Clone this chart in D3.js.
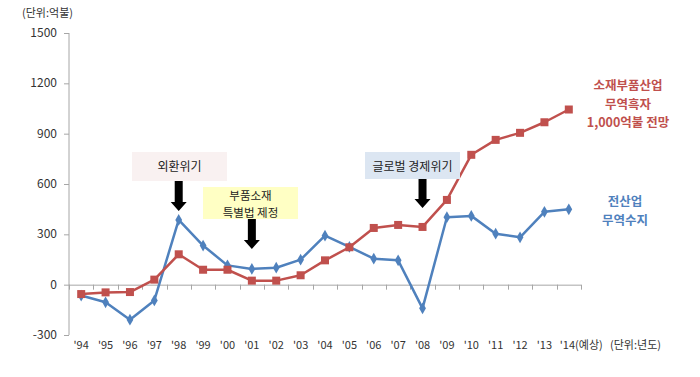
<!DOCTYPE html>
<html>
<head>
<meta charset="utf-8">
<script src="https://cdn.jsdelivr.net/npm/d3@7"></script>
<style>
  body { margin: 0; background: #fff; }
  text { font-family: "Noto Sans CJK KR", "Noto Sans", sans-serif; }
</style>
</head>
<body>
<svg id="chart" width="700" height="377"></svg>
<script>
// categories (years)
const years = ["'94", "'95", "'96", "'97", "'98", "'99", "'00", "'01", "'02", "'03", "'04",
  "'05", "'06", "'07", "'08", "'09", "'10", "'11", "'12", "'13", "'14"];
// 전산업 무역수지 (억불)
const totalBalance = [-65, -105, -209, -94, 386, 233, 115, 94, 101, 149, 292,
  225, 155, 145, -141, 402, 410, 304, 282, 434, 449];
// 소재부품산업 무역흑자 (억불)
const partsBalance = [-56, -46, -44, 30, 181, 89, 89, 24, 24, 56, 145,
  223, 338, 356, 344, 505, 774, 863, 905, 968, 1044];
const yTicks = [-300, 0, 300, 600, 900, 1200, 1500];

// annotation boxes: label lines, year they point to
const notes = [
  { lines: ["외환위기"], year: "'98", fill: "#f9f1f1" },
  { lines: ["부품소재", "특별법 제정"], year: "'01", fill: "#ffffc4" },
  { lines: ["글로벌 경제위기"], year: "'08", fill: "#dce6f2" }
];
const redLabel = ["소재부품산업", "무역흑자", "1,000억불 전망"];
const blueLabel = ["전산업", "무역수지"];

const svg = d3.select("#chart");
const blue = "#4f81bd";
const red = "#c0504d";
const axisColor = "#a6a6a6";

const x = d3.scaleBand().domain(years).range([69, 581]).padding(0);
const y = d3.scaleLinear().domain([-300, 1500]).range([335, 33]);
const cx = (d) => x(d) + x.bandwidth() / 2;

// y axis
svg.append("line")
  .attr("x1", 69).attr("x2", 69)
  .attr("y1", y(1500)).attr("y2", y(-300))
  .attr("stroke", axisColor);
svg.append("g")
  .selectAll("line")
  .data(yTicks)
  .join("line")
  .attr("x1", 64).attr("x2", 69)
  .attr("y1", (d) => y(d) + 0.5).attr("y2", (d) => y(d) + 0.5)
  .attr("stroke", axisColor);
svg.append("g")
  .selectAll("text")
  .data(yTicks)
  .join("text")
  .attr("x", 57)
  .attr("y", (d) => y(d) + 4)
  .attr("text-anchor", "end")
  .style("font-size", "12px")
  .style("fill", "#333")
  .text((d) => d);

// x axis at zero
svg.append("line")
  .attr("x1", 69).attr("x2", 581)
  .attr("y1", y(0) + 0.5).attr("y2", y(0) + 0.5)
  .attr("stroke", axisColor);
svg.append("g")
  .selectAll("line")
  .data(years.concat(["end"]))
  .join("line")
  .attr("x1", (d, i) => Math.round(69 + i * x.bandwidth()) + 0.5)
  .attr("x2", (d, i) => Math.round(69 + i * x.bandwidth()) + 0.5)
  .attr("y1", y(0)).attr("y2", y(0) + 5)
  .attr("stroke", axisColor);
svg.append("g")
  .selectAll("text")
  .data(years)
  .join("text")
  .attr("x", (d, i) => (i === years.length - 1 ? cx(d) - 9 : cx(d)))
  .attr("y", 349)
  .attr("text-anchor", (d, i) => (i === years.length - 1 ? "start" : "middle"))
  .style("font-size", "11px")
  .style("fill", "#333")
  .text((d, i) => (i === years.length - 1 ? d + "(예상)" : d));

svg.append("text")
  .attr("x", 610).attr("y", 349)
  .style("font-size", "11px")
  .style("fill", "#333")
  .text("(단위:년도)");
svg.append("text")
  .attr("x", 22).attr("y", 17)
  .style("font-size", "11px")
  .style("fill", "#333")
  .text("(단위:억불)");

// lines
const line = d3.line().x((d, i) => cx(years[i])).y((d) => y(d));

svg.append("path")
  .datum(totalBalance)
  .attr("fill", "none")
  .attr("stroke", blue)
  .attr("stroke-width", 2.5)
  .attr("stroke-linejoin", "round")
  .attr("d", line);
svg.append("g")
  .selectAll("path")
  .data(totalBalance)
  .join("path")
  .attr("d", d3.symbol(d3.symbolDiamond, 40))
  .attr("transform", (d, i) => `translate(${cx(years[i])},${y(d)})`)
  .attr("fill", blue);

svg.append("path")
  .datum(partsBalance)
  .attr("fill", "none")
  .attr("stroke", red)
  .attr("stroke-width", 2.5)
  .attr("stroke-linejoin", "round")
  .attr("d", line);
svg.append("g")
  .selectAll("rect")
  .data(partsBalance)
  .join("rect")
  .attr("x", (d, i) => cx(years[i]) - 4)
  .attr("y", (d) => y(d) - 4)
  .attr("width", 8).attr("height", 8)
  .attr("fill", red);

// annotation boxes and arrows
const boxes = [
  { x: 132, y: 152, w: 95, h: 29 },
  { x: 203, y: 187, w: 95, h: 32 },
  { x: 365, y: 152, w: 95, h: 27 }
];
const arrowTips = [211, 249, 208];
notes.forEach((n, k) => {
  const b = boxes[k];
  svg.append("rect")
    .attr("x", b.x).attr("y", b.y)
    .attr("width", b.w).attr("height", b.h)
    .attr("fill", n.fill);
  const t = svg.append("text")
    .attr("text-anchor", "middle")
    .style("font-size", n.lines.length === 1 ? "12px" : "11.5px")
    .style("fill", "#222");
  n.lines.forEach((s, j) => {
    t.append("tspan")
      .attr("x", b.x + b.w / 2)
      .attr("y", b.y + (n.lines.length === 1 ? 19 : 13 + j * 17))
      .text(s);
  });
  const ax = cx(n.year);
  const top = b.y + b.h;
  const tip = arrowTips[k];
  svg.append("path")
    .attr("d", `M${ax - 4},${top} L${ax + 4},${top} L${ax + 4},${tip - 9} L${ax + 8},${tip - 9}
      L${ax},${tip} L${ax - 8},${tip - 9} L${ax - 4},${tip - 9} Z`)
    .attr("fill", "#000");
});

// series labels (one text block each)
function block(lines, x0, y0, color) {
  const t = svg.append("text")
    .attr("text-anchor", "middle")
    .style("font-size", "12.5px")
    .style("font-weight", "bold")
    .style("fill", color);
  t.selectAll("tspan")
    .data(lines)
    .join("tspan")
    .attr("x", x0)
    .attr("y", (d, i) => y0 + i * 18.5)
    .text((d) => d);
}
block(redLabel, 628, 90, red);
block(blueLabel, 625, 206, blue);
</script>
</body>
</html>
